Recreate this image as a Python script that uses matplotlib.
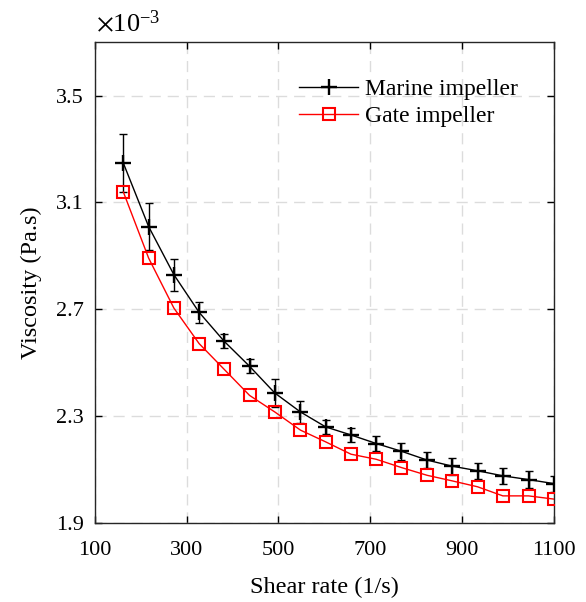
import numpy as np
import matplotlib
matplotlib.use("Agg")
import matplotlib.pyplot as plt

plt.rcParams['font.family'] = ['Liberation Serif', 'DejaVu Serif']
plt.rcParams['mathtext.fontset'] = 'stix'

# shear rate (1/s)
shear = [162, 217, 272, 327, 382, 437, 492, 548, 603, 658,
         713, 768, 824, 879, 934, 989, 1045, 1100]

# viscosity, x 10^-3 Pa.s
marine = [3.247, 3.010, 2.830, 2.689, 2.580, 2.487, 2.387, 2.316, 2.260, 2.230,
          2.198, 2.169, 2.136, 2.113, 2.096, 2.077, 2.063, 2.048]
marine_err = [0.109, 0.089, 0.060, 0.039, 0.026, 0.027, 0.051, 0.040, 0.026, 0.027,
              0.029, 0.031, 0.030, 0.031, 0.030, 0.031, 0.031, 0.030]
gate = [3.139, 2.892, 2.705, 2.572, 2.475, 2.378, 2.316, 2.248, 2.204, 2.158,
        2.139, 2.108, 2.079, 2.058, 2.036, 2.002, 2.002, 1.990]

xticks = [100, 300, 500, 700, 900, 1100]
yticks = [1.9, 2.3, 2.7, 3.1, 3.5]

fig = plt.figure(figsize=(5.86, 6.02), dpi=100)
ax = fig.add_axes([0.162, 0.131, 0.783, 0.799])

ax.errorbar(shear, marine, yerr=marine_err, fmt='none', ecolor='black',
            capsize=3, elinewidth=1.0, capthick=1.0, zorder=3)
ax.plot(shear, marine, color='black', lw=1.0, marker='+', ms=12, mew=1.7,
        label='Marine impeller', zorder=3)
ax.plot(shear, gate, color='red', lw=1.0, marker='s', ms=9,
        mfc='none', mec='red', mew=1.5, label='Gate impeller', zorder=4)

ax.set_xlim(100, 1100)
ax.set_ylim(1.9, 3.7)
ax.set_xticks(xticks)
ax.set_yticks(yticks)
ax.set_xticklabels([str(t) for t in xticks])
ax.set_yticklabels(['%.1f' % t for t in yticks])

ax.grid(True, color='#dcdcdc', ls=(0, (8, 5)), lw=1.0)
ax.set_axisbelow(True)
ax.tick_params(direction='in', top=True, right=True, length=5, width=1,
               labelsize=16)
ax.tick_params(axis='x', pad=13)
ax.tick_params(axis='y', pad=8)
for s in ax.spines.values():
    s.set_linewidth(1.0)
    s.set_color('#262626')

ax.set_xlabel('Shear rate (1/s)', fontsize=17.5, labelpad=12)
ax.set_ylabel('Viscosity (Pa.s)', fontsize=17.5, labelpad=10)

ax.text(0.003, 1.012, r'$\times\mathregular{10^{-3}}$', transform=ax.transAxes,
        fontsize=19, ha='left', va='bottom')

ax.legend(loc='upper left', bbox_to_anchor=(0.425, 0.944), frameon=False,
          fontsize=17, handlelength=2.5, handletextpad=0.3, labelspacing=0.25,
          borderaxespad=0)

fig.savefig('out.png', dpi=100)
